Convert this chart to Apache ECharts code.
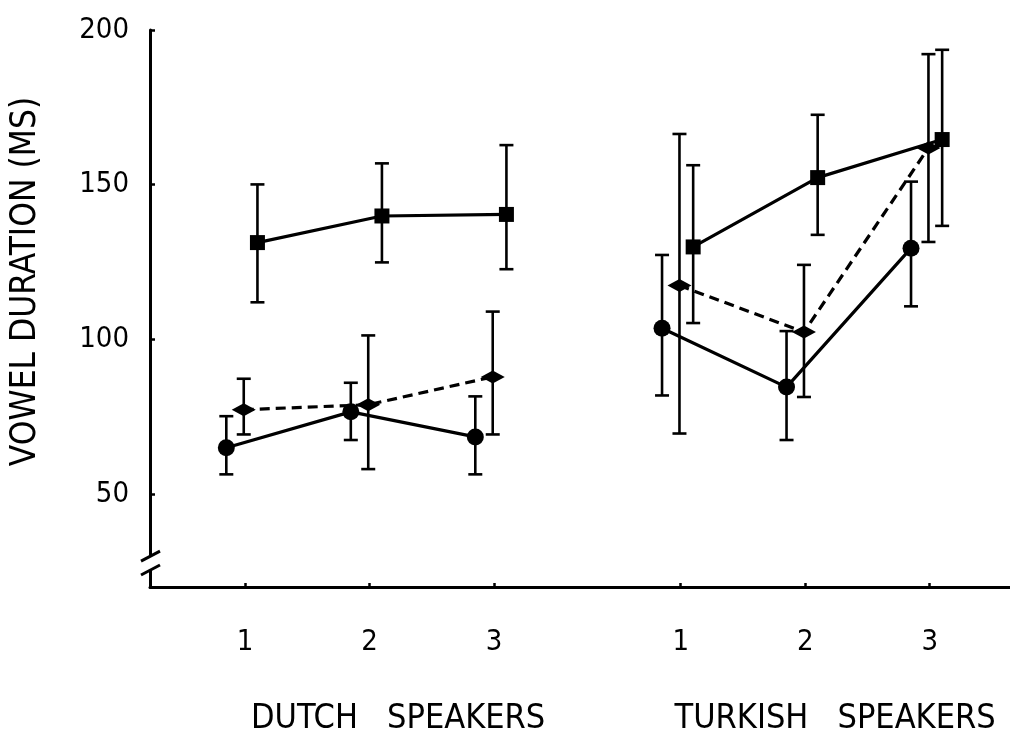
<!DOCTYPE html>
<html><head><meta charset="utf-8">
<script src="https://cdn.jsdelivr.net/npm/echarts@6/dist/echarts.min.js"></script>
<style>html,body{margin:0;padding:0;background:#fff}#c{width:1010px;height:736px}</style>
</head><body><div id="c"></div>
<script>
// ---- data ----
const tickX = [1, 2, 3, 4.5, 5.5, 6.5];
const tickLabels = ['1', '2', '3', '1', '2', '3'];
const groupX = [2.23, 5.74];
const groupLabels = ['DUTCH   SPEAKERS', 'TURKISH   SPEAKERS'];
const yTicks = [50, 100, 150, 200];
const yBreak = [25.5, 30];

const circleMean = [65.0, 76.6, 68.5, 103.6, 84.6, 129.5];
const circleLow  = [56.4, 67.5, 56.4, 81.9, 67.5, 110.7];
const circleHigh = [75.2, 86.0, 81.6, 127.3, 102.7, 151.0];

const diamondMean = [77.3, 78.9, 87.9, 117.4, 102.4, 161.9];
const diamondLow  = [69.3, 58.1, 69.3, 69.6, 81.4, 131.5];
const diamondHigh = [87.3, 101.3, 109.0, 166.4, 124.1, 192.2];

const squareMean = [131.3, 139.9, 140.4, 129.9, 152.3, 164.6];
const squareLow  = [112.0, 124.9, 122.7, 105.3, 133.8, 136.7];
const squareHigh = [150.1, 156.9, 162.8, 156.3, 172.6, 193.6];

// ---- build ----
const X_MIN = 0.237, X_MAX = 7.145;
const numFont = 'DejaVu Sans Condensed, DejaVu Sans, sans-serif';
const wordFont = 'DejaVu Sans Condensed, DejaVu Sans, sans-serif';

const kinds = [
  {mean: circleMean, low: circleLow, high: circleHigh, dodge: -0.15, symbol: 'circle', size: 17, dash: 'solid'},
  {mean: diamondMean, low: diamondLow, high: diamondHigh, dodge: -0.01, symbol: 'diamond', size: [24, 13], dash: [10, 6]},
  {mean: squareMean, low: squareLow, high: squareHigh, dodge: 0.1, symbol: 'rect', size: 15, dash: 'solid'}
];

const series = [];
kinds.forEach(k => {
  const bars = tickX.map((t, i) => [t + k.dodge, k.low[i], k.high[i]]);
  series.push({
    type: 'custom', z: 2, silent: true,
    encode: {x: 0, y: [1, 2]},
    data: bars,
    renderItem: (params, api) => {
      const x = api.value(0), lo = api.value(1), hi = api.value(2);
      const pLo = api.coord([x, lo]), pHi = api.coord([x, hi]);
      const hw = 7;
      const style = {stroke: '#000', lineWidth: 2.6, fill: null};
      return {type: 'group', children: [
        {type: 'line', shape: {x1: pLo[0], y1: pLo[1], x2: pHi[0], y2: pHi[1]}, style},
        {type: 'line', shape: {x1: pLo[0] - hw, y1: pLo[1], x2: pLo[0] + hw, y2: pLo[1]}, style},
        {type: 'line', shape: {x1: pHi[0] - hw, y1: pHi[1], x2: pHi[0] + hw, y2: pHi[1]}, style}
      ]};
    }
  });
  [0, 1].forEach(g => {
    const data = [0, 1, 2].map(j => {
      const i = g * 3 + j;
      return [tickX[i] + k.dodge, k.mean[i]];
    });
    series.push({
      type: 'line', z: 3, data,
      symbol: k.symbol, symbolSize: k.size,
      itemStyle: {color: '#000'},
      lineStyle: {color: '#000', width: 3.2, type: k.dash},
      emphasis: {disabled: true}
    });
  });
});

const chart = echarts.init(document.getElementById('c'), null, {renderer: 'canvas'});
chart.setOption({
  animation: false,
  backgroundColor: '#fff',
  grid: {left: 150, right: 0, top: 30, bottom: 147, containLabel: false},
  xAxis: [{
    type: 'value', min: X_MIN, max: X_MAX,
    splitLine: {show: false},
    axisLine: {show: true, onZero: false, lineStyle: {color: '#000', width: 3}},
    axisTick: {show: true, inside: true, length: 4, customValues: tickX, lineStyle: {color: '#000', width: 2.5}},
    axisLabel: {
      show: true, customValues: tickX, margin: 41, color: '#000',
      fontFamily: numFont, fontSize: 29,
      formatter: v => { const i = tickX.findIndex(t => Math.abs(t - v) < 1e-6); return i >= 0 ? tickLabels[i] : ''; }
    }
  }, {
    type: 'value', min: X_MIN, max: X_MAX, position: 'bottom',
    splitLine: {show: false}, axisLine: {show: false}, axisTick: {show: false},
    axisLabel: {
      show: true, customValues: groupX, margin: 115, color: '#000',
      fontFamily: wordFont, fontSize: 34,
      formatter: v => { const i = groupX.findIndex(t => Math.abs(t - v) < 1e-6); return i >= 0 ? groupLabels[i] : ''; }
    }
  }],
  yAxis: {
    type: 'value', min: 20, max: 200,
    splitLine: {show: false},
    axisLine: {show: true, onZero: false, lineStyle: {color: '#000', width: 3}},
    axisTick: {show: true, inside: true, length: 5, customValues: yTicks, lineStyle: {color: '#000', width: 2.5}},
    axisLabel: {show: true, customValues: yTicks, margin: 21, color: '#000', fontFamily: numFont, fontSize: 29},
    name: 'VOWEL DURATION (MS)', nameLocation: 'middle', nameGap: 107, nameRotate: 90,
    nameTextStyle: {color: '#000', fontFamily: numFont, fontSize: 35, padding: [0, 0, 0, 54]}
  },
  series
});

// axis break mark on the y axis
const pA = chart.convertToPixel({gridIndex: 0}, [X_MIN, yBreak[1]]);
const pB = chart.convertToPixel({gridIndex: 0}, [X_MIN, yBreak[0]]);
chart.setOption({
  graphic: [
    {type: 'rect', shape: {x: pA[0] - 4, y: pA[1], width: 8, height: pB[1] - pA[1]}, style: {fill: '#fff'}, z: 10},
    {type: 'line', shape: {x1: pA[0] - 9, y1: pA[1] + 5, x2: pA[0] + 10, y2: pA[1] - 5}, style: {stroke: '#000', lineWidth: 3}, z: 11},
    {type: 'line', shape: {x1: pB[0] - 9, y1: pB[1] + 5, x2: pB[0] + 10, y2: pB[1] - 5}, style: {stroke: '#000', lineWidth: 3}, z: 11}
  ]
});
</script>
</body></html>
